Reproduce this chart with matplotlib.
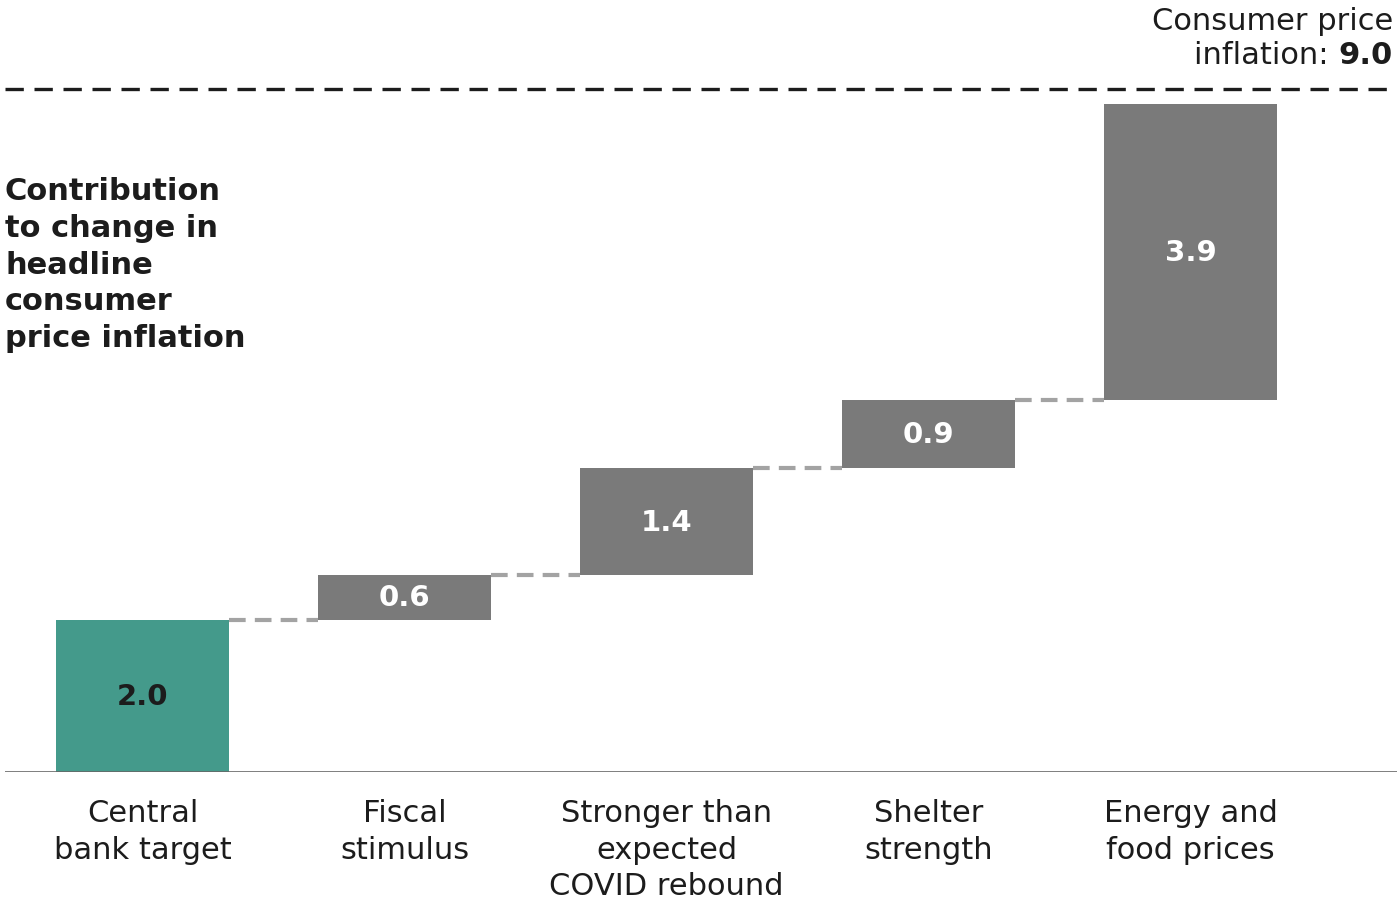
import matplotlib
matplotlib.use("Agg")
import matplotlib.pyplot as plt
import numpy as np

categories = ["Central\nbank target", "Fiscal\nstimulus",
              "Stronger than\nexpected\nCOVID rebound", "Shelter\nstrength",
              "Energy and\nfood prices"]
contributions = [2.0, 0.6, 1.4, 0.9, 3.9]
total_inflation = 9.0
axis_title = "Contribution\nto change in\nheadline\nconsumer\nprice inflation"

TEAL = "#449a8b"
GREY = "#7a7a7a"
CONNECTOR = "#a3a3a3"
INK = "#1c1c1c"
FONT = ["DejaVu Sans"]

plt.rcParams["font.family"] = FONT

fig = plt.figure(figsize=(14, 9.03), dpi=100)
ax = fig.add_axes([5 / 1400, 1 - 773 / 903, 1392 / 1400, (773 - 90) / 903])

vals = np.array(contributions)
bottoms = np.concatenate([[0], np.cumsum(vals)[:-1]])
tops = bottoms + vals
x = np.arange(len(vals))
width = 0.66
colors = [TEAL] + [GREY] * (len(vals) - 1)

ax.bar(x, vals, width=width, bottom=bottoms, color=colors, edgecolor="none", zorder=2)

for i, (b, v) in enumerate(zip(bottoms, vals)):
    ax.text(x[i], b + v / 2, f"{v:.1f}", ha="center", va="center",
            fontsize=21, fontweight="bold",
            color=INK if i == 0 else "white", zorder=3)

# connectors between consecutive bars
for i in range(len(vals) - 1):
    ax.plot([x[i] + width / 2, x[i + 1] - width / 2], [tops[i], tops[i]],
            color=CONNECTOR, lw=3, dashes=(4, 2.2), solid_capstyle="butt",
            dash_capstyle="butt", zorder=1)

# total reference line
ax.axhline(total_inflation, color=INK, lw=2.4, dashes=(5.5, 3.2), zorder=4,
           clip_on=False)
ax.axhline(0, color="#666666", lw=1.9, zorder=4)

xl = (5 - 142.5) / 262
xr = (1397 - 142.5) / 262
ax.set_xlim(xl, xr)
ax.set_ylim(0, total_inflation)
ax.axis("off")

for i, lab in enumerate(categories):
    ax.annotate(lab, xy=(x[i], 0), xycoords="data", xytext=(0, -18.5),
                textcoords="offset points", ha="center", va="top",
                fontsize=22, color=INK, linespacing=1.34)

fig.text(5 / 1400, 1 - 177 / 903, axis_title, ha="left", va="top",
         fontsize=22, fontweight="bold", color=INK, linespacing=1.34)

fig.text(1393 / 1400, 1 - 21 / 903, "Consumer price", ha="right", va="center",
         fontsize=22, color=INK)
t_val = fig.text(1393 / 1400, 1 - 56 / 903, f"{total_inflation:.1f}", ha="right",
                 va="center", fontsize=22, fontweight="bold", color=INK)
fig.canvas.draw()
bb = t_val.get_window_extent()
fig.text(bb.x0 / fig.bbox.width, 1 - 56 / 903, "inflation: ", ha="right",
         va="center", fontsize=22, color=INK)

fig.savefig("out.png", dpi=100, facecolor="white")
